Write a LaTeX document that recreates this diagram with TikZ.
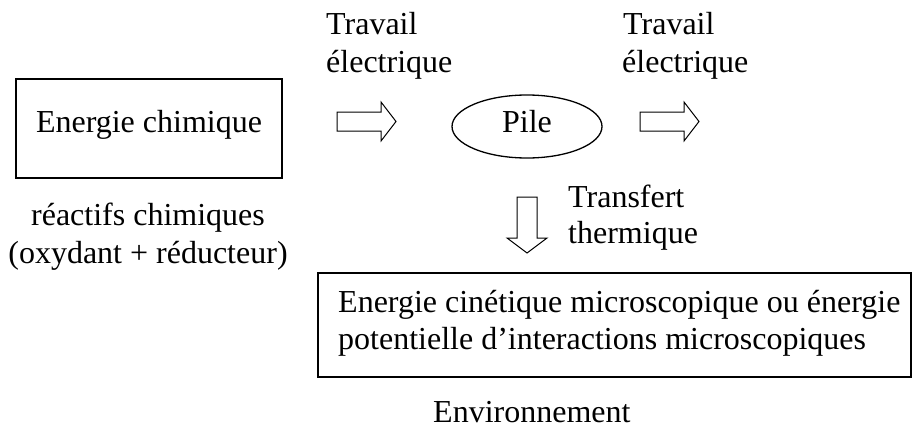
\documentclass[tikz,border=0pt]{standalone}
\usepackage{fontspec}
\setmainfont{Liberation Serif}
\usetikzlibrary{shapes.geometric}
\begin{document}
\begin{tikzpicture}[x=1pt,y=-1pt,
  box/.style={draw,line width=1.3pt,inner sep=0pt},
  blk/.style={draw,line width=1pt,line join=miter},
  txt/.style={font=\fontsize{32}{37}\selectfont,inner sep=0pt}]
\useasboundingbox (0,0) rectangle (912,428);
% boxes
\node[box,minimum width=266pt,minimum height=99pt] (chim) at (149,128.5) {};
\node[txt,anchor=base] (chimt) at (149,132) {Energie chimique};
\node[box,ellipse,minimum width=150pt,minimum height=63pt] (pile) at (527,126.5) {};
\node[txt,anchor=base] (pilet) at (527,132) {Pile};
\node[box,minimum width=593pt,minimum height=104pt] (env) at (614.5,325) {};
\node[txt,anchor=base west] (env1) at (338,312) {Energie cinétique microscopique ou énergie};
\node[txt,anchor=base west] (env2) at (338,349) {potentielle d’interactions microscopiques};
% labels
\node[txt,anchor=base] (reac1) at (148,225) {réactifs chimiques};
\node[txt,anchor=base] (reac2) at (148,263) {(oxydant + réducteur)};
\node[txt,anchor=base west] (tw1a) at (326,35) {Travail};
\node[txt,anchor=base west] (tw1b) at (326,72) {électrique};
\node[txt,anchor=base west] (tw2a) at (623,35) {Travail};
\node[txt,anchor=base west] (tw2b) at (622,72) {électrique};
\node[txt,anchor=base west] (tt1) at (568,207) {Transfert};
\node[txt,anchor=base west] (tt2) at (568,243) {thermique};
\node[txt,anchor=base west] (envt) at (433,422) {Environnement};
% block arrows
\draw[blk] (337,112) -- (381,112) -- (381,102) -- (396,121.5) -- (381,141) -- (381,131) -- (337,131) -- cycle;
\draw[blk] (640,112) -- (684,112) -- (684,102) -- (699,121.5) -- (684,141) -- (684,131) -- (640,131) -- cycle;
\draw[blk] (517,197) -- (537,197) -- (537,238) -- (547,238) -- (527,253) -- (507,238) -- (517,238) -- cycle;
\end{tikzpicture}
\end{document}
